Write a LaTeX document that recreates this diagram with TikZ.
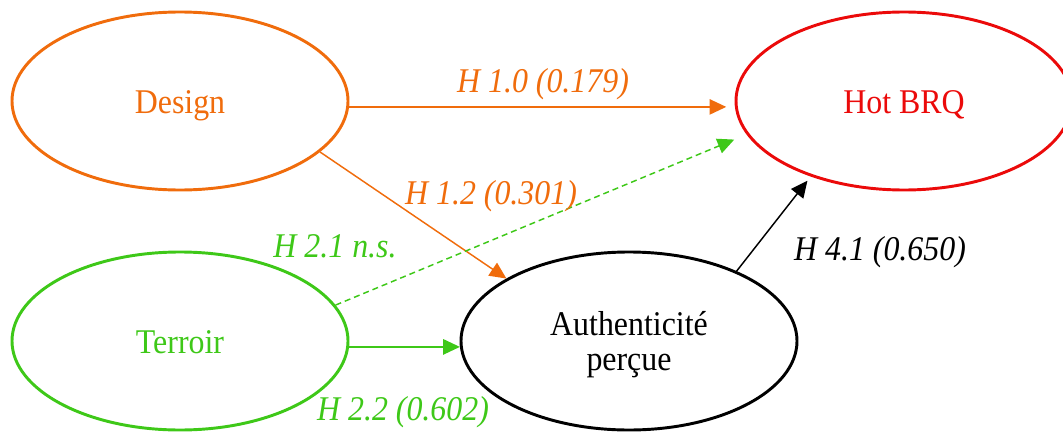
\documentclass[tikz,border=0pt]{standalone}
\usepackage{fontspec}
\setmainfont{Liberation Serif}[FakeStretch=0.92]
\usetikzlibrary{arrows.meta,shapes.geometric}
\definecolor{DOrange}{RGB}{240,108,12}
\definecolor{TGreen}{RGB}{62,200,24}
\definecolor{HRed}{RGB}{235,10,10}

\tikzset{
  construct/.style={ellipse, draw, line width=2.2pt, minimum width=252pt,
    minimum height=133.5pt, inner sep=0pt, align=center,
    text height=18pt, text depth=0pt,
    font=\fontsize{26}{26}\selectfont},
  link/.style={line width=1.1pt, -{Triangle[length=12.5pt,width=11.5pt]}},
  hyp/.style={anchor=base, font=\fontsize{26}{26}\selectfont\itshape}
}

\begin{document}
\begin{tikzpicture}[x=0.75pt,y=-0.75pt]
        \clip (0,0) rectangle (1063,432);
        % constructs
        \node[construct, draw=DOrange, text=DOrange] (Design) at (180,101) {Design};
        \node[construct, draw=HRed, text=HRed] (HotBRQ) at (904,101) {Hot BRQ};
        \node[construct, draw=TGreen, text=TGreen] (Terroir) at (180,341) {Terroir};
        \node[construct, draw=black, text height=44pt] (Auth) at (629,341) {Authenticité\\perçue};

        % hypotheses
        \draw[link, DOrange, shorten >=6.5pt] (Design.-2) -- (HotBRQ.182);
        \draw[link, DOrange] (Design.-20) -- (Auth.153);
        \draw[link, TGreen, dash pattern=on 4.5pt off 3pt, shorten >=10pt] (Terroir.13) -- (HotBRQ.192);
        \draw[link, TGreen] (Terroir.-2) -- (Auth.182);
        \draw[link, black, shorten >=4pt] (Auth.33) -- (HotBRQ.219);

        \node[hyp, text=DOrange] (H10) at (543,92) {H 1.0 (0.179)};
        \node[hyp, text=DOrange] (H12) at (491,204) {H 1.2 (0.301)};
        \node[hyp, text=TGreen] (H21) at (335,257) {H 2.1 n.s.};
        \node[hyp, text=TGreen] (H22) at (403,420) {H 2.2 (0.602)};
        \node[hyp] (H41) at (880,260) {H 4.1 (0.650)};
      \end{tikzpicture}
\end{document}
